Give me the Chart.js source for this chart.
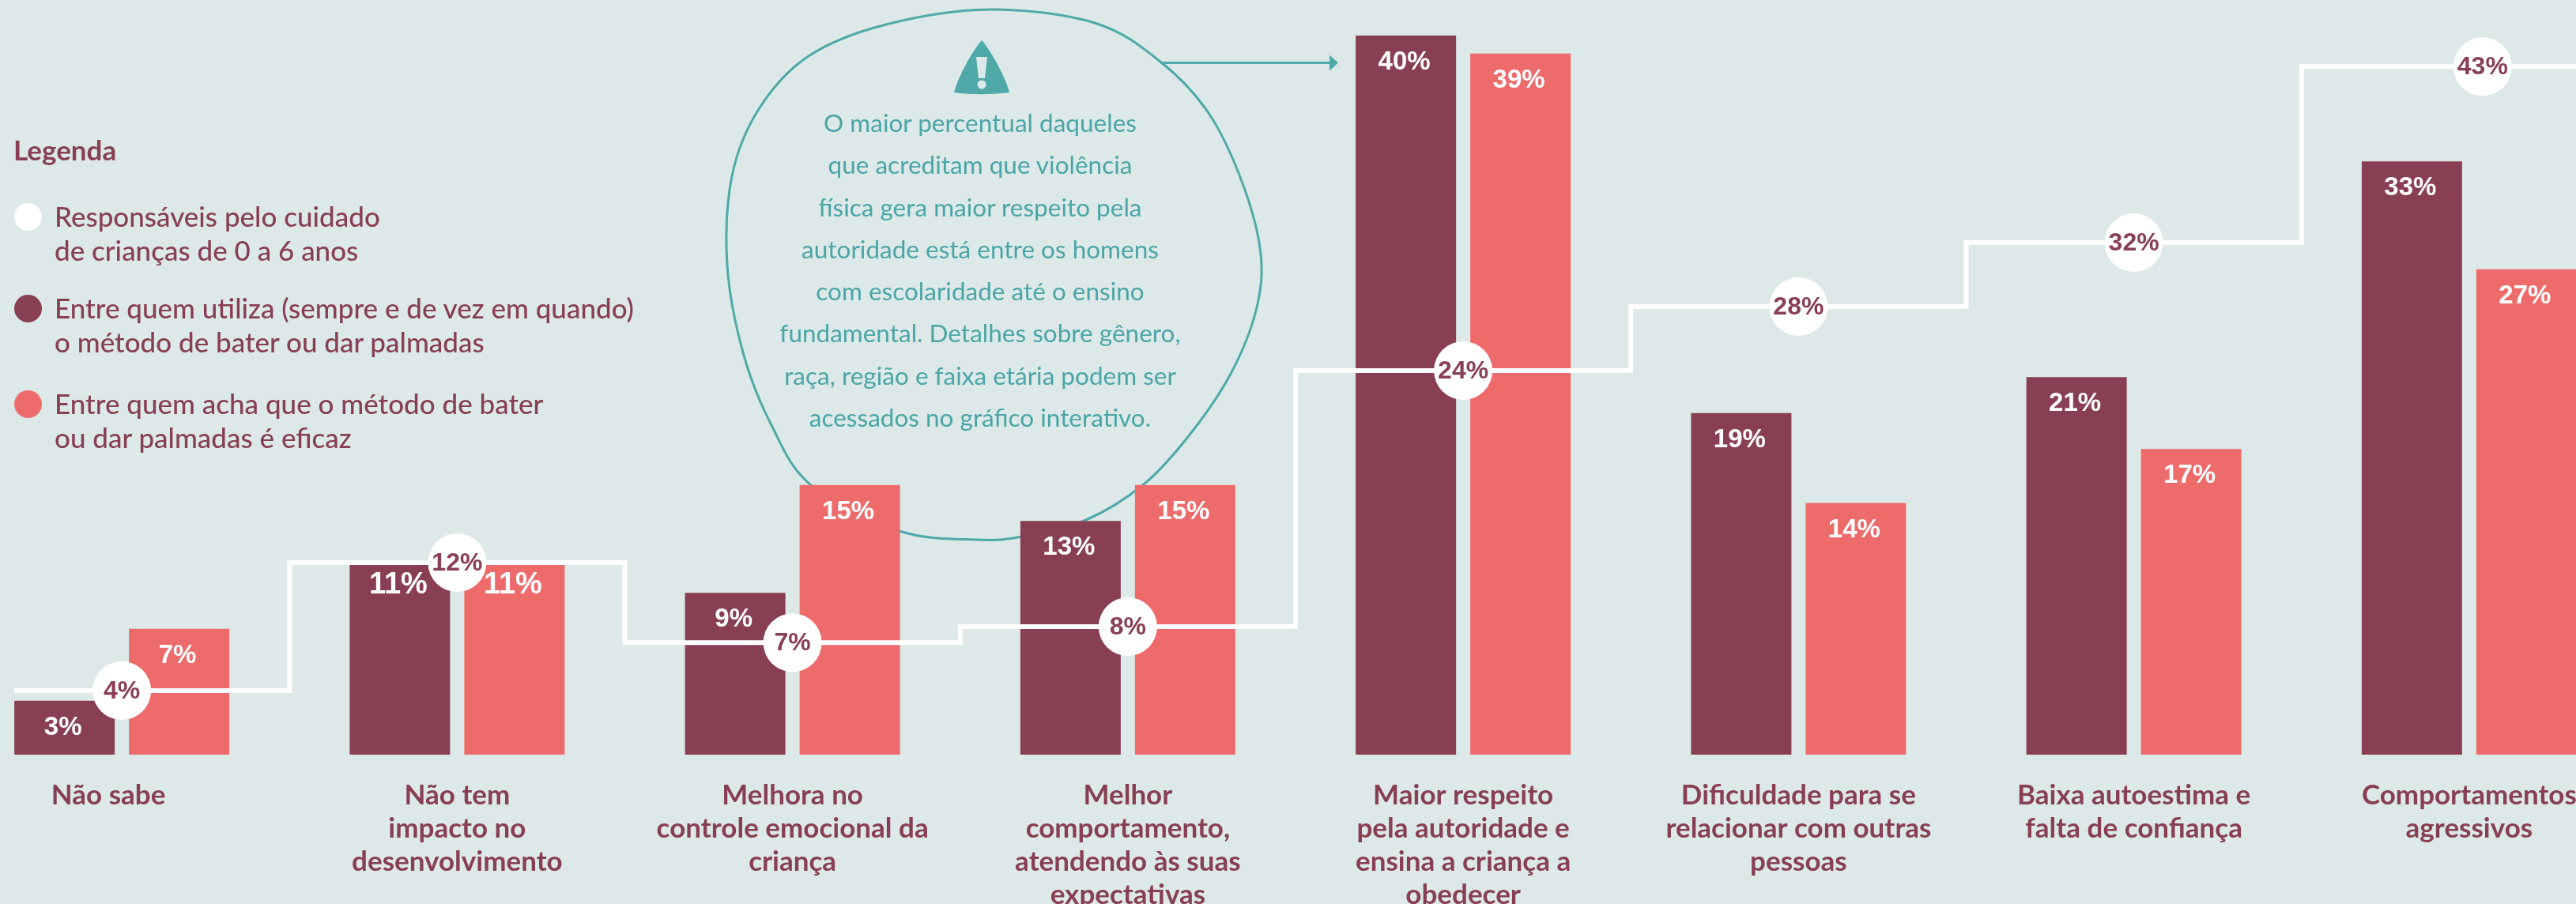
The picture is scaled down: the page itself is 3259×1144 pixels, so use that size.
<!DOCTYPE html>
<html lang="pt-BR">
<head>
<meta charset="utf-8">
<title>Percepção sobre bater ou dar palmadas</title>
<script src="https://cdn.jsdelivr.net/npm/chart.js@4/dist/chart.umd.min.js"></script>
<style>
    html, body { margin: 0; width: 3259px; height: 1144px; overflow: hidden; background: #dce9e8; }
    #chart { position: absolute; left: -58px; top: 0; z-index: 1; }
    #blob { position: absolute; left: 0; top: 0; z-index: 0; }
    .legend { position: absolute; z-index: 2; left: 69px; color: #893f53; font: 500 35px/42.5px Lato, sans-serif; white-space: nowrap; }
    .legend-title { left: 17px; top: 168px; font-weight: 700; }
    .dot { position: absolute; left: -51px; top: 5px; width: 35px; height: 35px; border-radius: 50%; }
    #note { position: absolute; z-index: 2; left: 940px; top: 129px; width: 600px; text-align: center; color: #4aa6a6; font: 400 31.5px/53.3px Lato, sans-serif; white-space: nowrap; }
</style>
</head>
<body>
<svg id="blob" width="3259" height="1144">
    <path id="blobPath" fill="none" stroke="#4fa9a9" stroke-width="3"></path>
    <path d="M1468 79.5H1684" stroke="#4fa9a9" stroke-width="3"></path>
    <path d="M1682 69.5L1693 79.5L1682 89.5Z" fill="#4fa9a9"></path>
    <path d="M1242 51C1254 64 1273 100 1277 117C1255 120 1229 120 1207 117C1211 100 1230 64 1242 51Z" fill="#4fa9a9"></path>
    <path d="M1235 72L1249 72L1246 99L1238 99Z" fill="#dce9e8"></path>
    <circle cx="1242" cy="107" r="5.5" fill="#dce9e8"></circle>
</svg>
<canvas id="chart" width="3394" height="1144"></canvas>
<div id="legendBox"></div>
<div id="note"></div>
<script>
const categories = [
    "Não sabe",
    ["Não tem", "impacto no", "desenvolvimento"],
    ["Melhora no", "controle emocional da", "criança"],
    ["Melhor", "comportamento,", "atendendo às suas", "expectativas"],
    ["Maior respeito", "pela autoridade e", "ensina a criança a", "obedecer"],
    ["Dificuldade para se", "relacionar com outras", "pessoas"],
    ["Baixa autoestima e", "falta de confiança"],
    ["Comportamentos", "agressivos"],
];
const usesMethod = [3, 10.55, 9, 13, 40, 19, 21, 33];
const findsEffective = [7, 10.55, 15, 15, 39, 14, 17, 27];
const caregivers = [4, 12, 7, 8, 24, 28, 32, 43];

const legendTitle = "Legenda";
const legendItems = [
    ["#ffffff", "Responsáveis pelo cuidado", "de crianças de 0 a 6 anos"],
    ["#893f53", "Entre quem utiliza (sempre e de vez em quando)", "o método de bater ou dar palmadas"],
    ["#ee6b6b", "Entre quem acha que o método de bater", "ou dar palmadas é eficaz"],
];
const legendTops = [252, 368, 489];
const noteLines = [
    "O maior percentual daqueles",
    "que acreditam que violência",
    "física gera maior respeito pela",
    "autoridade está entre os homens",
    "com escolaridade até o ensino",
    "fundamental. Detalhes sobre gênero,",
    "raça, região e faixa etária podem ser",
    "acessados no gráfico interativo.",
];

// outline of the note bubble, hand traced
const blobPoints = [
    [1253, 12], [1385, 29], [1468, 78], [1529, 143], [1572, 232], [1595, 321], [1589, 393], [1557, 473], [1506, 549],
    [1448, 612], [1374, 658], [1293, 679], [1236, 683], [1138, 672], [1026, 614], [975, 536], [940, 446], [920, 335],
    [926, 223], [960, 138], [1023, 71], [1121, 31],
];

function blobPath(pts) {
    const n = pts.length;
    let d = `M${pts[0][0]} ${pts[0][1]}`;
    for (let i = 0; i < n; i++) {
        const [p0, p1, p2, p3] = [pts[(i + n - 1) % n], pts[i], pts[(i + 1) % n], pts[(i + 2) % n]];
        d += `C${p1[0] + (p2[0] - p0[0]) / 6} ${p1[1] + (p2[1] - p0[1]) / 6} ${p2[0] - (p3[0] - p1[0]) / 6} ${p2[1] - (p3[1] - p1[1]) / 6} ${p2[0]} ${p2[1]}`;
    }
    return d + "Z";
}
document.getElementById("blobPath").setAttribute("d", blobPath(blobPoints));

document.getElementById("legendBox").innerHTML =
    `<div class="legend legend-title">${legendTitle}</div>` +
    legendItems.map((item, i) =>
        `<div class="legend" style="top:${legendTops[i]}px"><span class="dot" style="background:${item[0]}"></span>${item[1]}<br>${item[2]}</div>`
    ).join("");
document.getElementById("note").innerHTML = noteLines.join("<br>");

const valueLabels = {
    id: "valueLabels",
    afterDatasetsDraw(chart) {
        const ctx = chart.ctx;
        ctx.save();
        ctx.textAlign = "center";
        ctx.textBaseline = "middle";
        chart.data.datasets.forEach((ds, i) => {
            chart.getDatasetMeta(i).data.forEach((el, j) => {
                if (ds.type === "line") {
                    if (!ds.data[j].mark) return;
                    ctx.fillStyle = "#893f53";
                    ctx.font = "bold 32px 'Liberation Sans'";
                    ctx.fillText(ds.data[j].y + "%", el.x, el.y + 1);
                    return;
                }
                const big = j === 1;
                ctx.fillStyle = "#ffffff";
                ctx.font = `bold ${big ? 38 : 33}px 'Liberation Sans'`;
                ctx.fillText(Math.round(ds.data[j]) + "%", el.x - 2, el.y + (big ? 26 : 34));
            });
        });
        ctx.restore();
    },
};

// the line runs past the first and last groups, and the last marker sits a bit right of its step
const last = caregivers.length - 1;
const linePoints = [{ x: -0.321, y: caregivers[0] }]
    .concat(caregivers.map((v, i) => ({ x: i, y: v, mark: i < last })))
    .concat([{ x: last + 0.04, y: caregivers[last], mark: true }, { x: last + 0.5, y: caregivers[last] }]);

new Chart(document.getElementById("chart"), {
    data: {
        labels: categories,
        datasets: [
            {
                type: "line",
                label: "Responsáveis pelo cuidado de crianças de 0 a 6 anos",
                data: linePoints,
                xAxisID: "xLine",
                yAxisID: "yLine",
                stepped: "middle",
                borderColor: "#ffffff",
                borderWidth: 6,
                backgroundColor: "#ffffff",
                pointBorderWidth: 0,
                pointRadius: (c) => (c.raw.mark ? 37 : 0),
                order: 0,
            },
            {
                type: "bar",
                label: "Entre quem utiliza o método de bater ou dar palmadas",
                data: usesMethod,
                backgroundColor: "#893f53",
                // doubled: the second x axis of the line halves the bar slots
                categoryPercentage: 1.367,
                barPercentage: 0.876,
                order: 1,
            },
            {
                type: "bar",
                label: "Entre quem acha que o método de bater ou dar palmadas é eficaz",
                data: findsEffective,
                backgroundColor: "#ee6b6b",
                categoryPercentage: 1.367,
                barPercentage: 0.876,
                order: 1,
            },
        ],
    },
    options: {
        responsive: false,
        animation: false,
        devicePixelRatio: 1,
        layout: { padding: 0 },
        plugins: { legend: { display: false }, tooltip: { enabled: false } },
        scales: {
            x: {
                grid: { display: false },
                border: { display: false },
                afterFit: (scale) => {
                    scale.height = 189;
                },
                ticks: {
                    autoSkip: false,
                    maxRotation: 0,
                    minRotation: 0,
                    padding: 23,
                    color: "#893f53",
                    font: { family: "Lato", size: 35, weight: "bold", lineHeight: 1.2 },
                    callback: function (value, index) {
                        const label = this.getLabelForValue(value);
                        // the first label sits left of its group
                        return index === 0 ? label + "\u00a0".repeat(4) : label;
                    },
                },
            },
            xLine: { type: "linear", display: false, min: -0.5, max: 7.5 },
            y: { display: false, min: 0, max: 41.98 },
            yLine: { display: false, min: 0, max: 47.16 },
        },
    },
    plugins: [valueLabels],
});
</script>
</body>
</html>
